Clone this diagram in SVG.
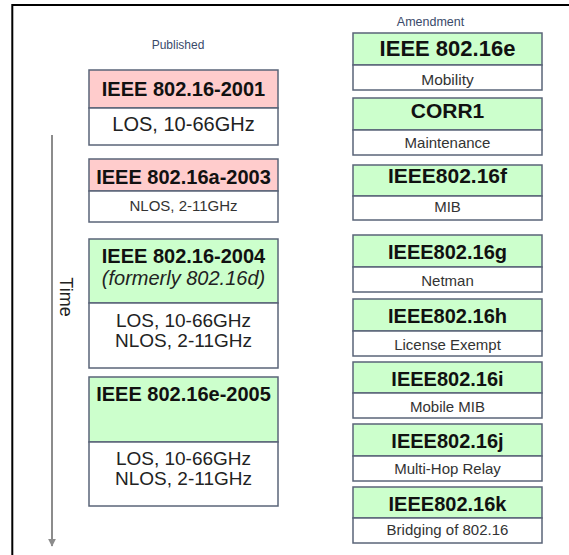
<svg xmlns="http://www.w3.org/2000/svg" width="569" height="555" viewBox="0 0 569 555">
<defs>
<style>
.frame{stroke:#000;stroke-width:2;fill:none}
.hp{fill:#ffcccc;stroke:#5a6478;stroke-width:1.5}
.hg{fill:#ccffcc;stroke:#5a6478;stroke-width:1.5}
.bd{fill:#fff;stroke:#5a6478;stroke-width:1.5}
text{font-family:"Liberation Sans",Arial,sans-serif;text-anchor:middle}
.t{font-weight:bold;font-size:20px;fill:#111}
.r{font-size:20px;fill:#222}
.r2{font-size:19px;fill:#222}
.s{font-size:15px;fill:#333}
.lbl{font-size:12px;fill:#3a4a6a}
.conn{stroke:#8c8c8c;stroke-width:2;fill:none}
</style>
<marker id="ah" viewBox="0 0 10 10" refX="9" refY="5" markerWidth="4" markerHeight="4" orient="auto">
<path d="M0,0 L10,5 L0,10 z" fill="#8c8c8c"/>
</marker>
</defs>
<rect width="569" height="555" fill="#fff"/>
<path class="frame" d="M12.3,555 V5 H569"/>
<text class="lbl" x="178" y="49">Published</text>
<text class="lbl" x="430.5" y="26" style="font-size:12.5px">Amendment</text>
<g id="connectors">
<line class="conn" x1="52" y1="135" x2="52" y2="546" marker-end="url(#ah)"/>
<text x="60" y="297" transform="rotate(90 60 297)" style="font-size:18px;fill:#222">Time</text>
</g>
<g id="std2001">
<rect class="hp" x="89" y="70" width="189" height="38"/>
<rect class="bd" x="89" y="108" width="189" height="37"/>
<text class="t" x="183.5" y="96">IEEE 802.16-2001</text>
<text class="r" x="183.5" y="131">LOS, 10-66GHz</text>
</g>
<g id="std2003">
<rect class="hp" x="89" y="159" width="189" height="32"/>
<rect class="bd" x="89" y="191" width="189" height="31"/>
<text class="t" x="183.5" y="184">IEEE 802.16a-2003</text>
<text class="s" x="183.5" y="211">NLOS, 2-11GHz</text>
</g>
<g id="std2004">
<rect class="hg" x="89" y="239" width="189" height="64"/>
<rect class="bd" x="89" y="303" width="189" height="65"/>
<text class="t" x="183.5" y="263">IEEE 802.16-2004</text>
<text class="r" x="183.5" y="285" style="font-style:italic">(formerly 802.16d)</text>
<text class="r2" x="183.5" y="327">LOS, 10-66GHz</text>
<text class="r2" x="183.5" y="347">NLOS, 2-11GHz</text>
</g>
<g id="std2005">
<rect class="hg" x="89" y="377" width="189" height="65"/>
<rect class="bd" x="89" y="442" width="189" height="64"/>
<text class="t" x="183.5" y="401">IEEE 802.16e-2005</text>
<text class="r2" x="183.5" y="465">LOS, 10-66GHz</text>
<text class="r2" x="183.5" y="485">NLOS, 2-11GHz</text>
</g>
<g id="am16e">
<rect class="hg" x="353" y="33" width="189" height="32"/>
<rect class="bd" x="353" y="65" width="189" height="25"/>
<text class="t" x="447.5" y="56" style="font-size:22px">IEEE 802.16e</text>
<text class="s" x="447.5" y="85" style="font-size:15.5px">Mobility</text>
</g>
<g id="corr1">
<rect class="hg" x="353" y="98" width="189" height="32"/>
<rect class="bd" x="353" y="130" width="189" height="25"/>
<text class="t" x="447.5" y="118" style="font-size:21px">CORR1</text>
<text class="s" x="447.5" y="148">Maintenance</text>
</g>
<g id="am16f">
<rect class="hg" x="353" y="165" width="189" height="31"/>
<rect class="bd" x="353" y="196" width="189" height="24"/>
<text class="t" x="447.5" y="183" style="font-size:21px">IEEE802.16f</text>
<text class="s" x="447.5" y="212">MIB</text>
</g>
<g id="am16g">
<rect class="hg" x="353" y="235" width="189" height="32"/>
<rect class="bd" x="353" y="267" width="189" height="25"/>
<text class="t" x="447.5" y="259">IEEE802.16g</text>
<text class="s" x="447.5" y="286">Netman</text>
</g>
<g id="am16h">
<rect class="hg" x="353" y="299" width="189" height="32"/>
<rect class="bd" x="353" y="331" width="189" height="25"/>
<text class="t" x="447.5" y="323">IEEE802.16h</text>
<text class="s" x="447.5" y="350">License Exempt</text>
</g>
<g id="am16i">
<rect class="hg" x="353" y="362" width="189" height="31"/>
<rect class="bd" x="353" y="393" width="189" height="25"/>
<text class="t" x="447.5" y="386">IEEE802.16i</text>
<text class="s" x="447.5" y="412">Mobile MIB</text>
</g>
<g id="am16j">
<rect class="hg" x="353" y="424" width="189" height="32"/>
<rect class="bd" x="353" y="456" width="189" height="25"/>
<text class="t" x="447.5" y="448">IEEE802.16j</text>
<text class="s" x="447.5" y="474">Multi-Hop Relay</text>
</g>
<g id="am16k">
<rect class="hg" x="353" y="487" width="189" height="31"/>
<rect class="bd" x="353" y="518" width="189" height="25"/>
<text class="t" x="447.5" y="511">IEEE802.16k</text>
<text class="s" x="447.5" y="535">Bridging of 802.16</text>
</g>
</svg>
